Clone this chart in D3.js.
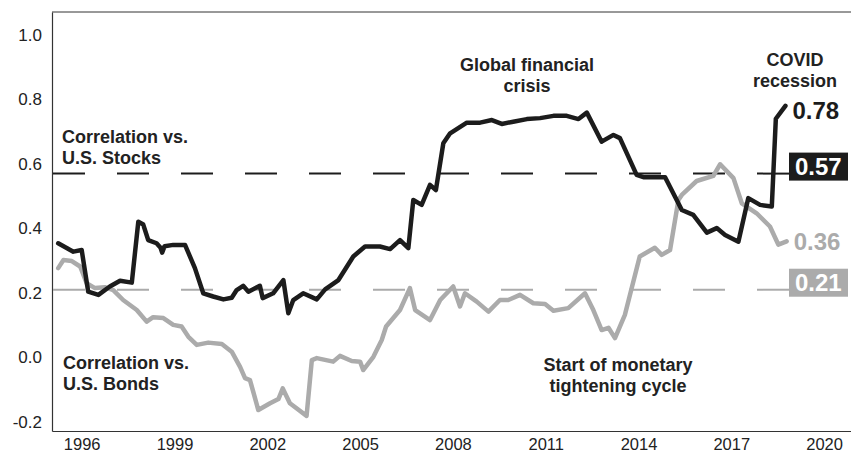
<!DOCTYPE html>
<html>
<head>
<meta charset="utf-8">
<script src="https://cdn.jsdelivr.net/npm/d3@7"></script>
<style>
  html, body { margin: 0; padding: 0; background: #fff; }
  svg { display: block; font-family: "Liberation Sans", Arial, Helvetica, sans-serif; }
</style>
</head>
<body>
<svg id="chart" width="851" height="454"></svg>
<script>
// Rolling correlation with U.S. stocks (black) and U.S. bonds (grey)
const stockYears = [1995.24,1995.73,1996.00,1996.21,1996.54,1996.91,1997.24,1997.62,1997.83,1997.99,
  1998.15,1998.42,1998.55,1998.60,1998.68,1998.96,1999.34,1999.66,1999.93,2000.25,
  2000.58,2000.85,2001.01,2001.22,2001.39,2001.76,2001.85,2002.19,2002.52,2002.68,
  2002.84,2003.16,2003.60,2003.87,2004.30,2004.78,2005.16,2005.64,2005.97,2006.29,
  2006.56,2006.72,2006.99,2007.26,2007.45,2007.69,2007.91,2008.45,2008.88,2009.26,
  2009.58,2009.95,2010.39,2010.82,2011.25,2011.68,2012.06,2012.33,2012.81,2013.19,
  2013.40,2013.94,2014.16,2014.86,2015.40,2015.77,2016.21,2016.53,2016.80,2017.23,
  2017.55,2017.93,2018.31,2018.44,2018.75];
const stockCorr = [0.354,0.328,0.333,0.204,0.194,0.220,0.238,0.232,0.421,0.412,
  0.364,0.354,0.340,0.325,0.345,0.349,0.349,0.277,0.199,0.189,
  0.180,0.185,0.209,0.222,0.204,0.222,0.184,0.199,0.240,0.137,
  0.178,0.199,0.180,0.211,0.240,0.313,0.344,0.344,0.336,0.364,
  0.339,0.488,0.473,0.535,0.519,0.664,0.695,0.728,0.728,0.736,
  0.724,0.731,0.739,0.742,0.749,0.749,0.739,0.759,0.669,0.690,
  0.680,0.566,0.559,0.559,0.457,0.442,0.387,0.401,0.380,0.359,
  0.494,0.473,0.468,0.740,0.780];

const bondYears = [1995.24,1995.41,1995.68,1995.95,1996.16,1996.43,1996.75,1997.02,1997.34,1997.78,
  1998.10,1998.31,1998.64,1998.96,1999.23,1999.45,1999.72,2000.09,2000.53,2000.85,
  2001.12,2001.28,2001.44,2001.71,2002.09,2002.36,2002.50,2002.73,2003.27,2003.44,
  2003.60,2004.13,2004.35,2004.73,2005.00,2005.10,2005.43,2005.70,2005.84,2006.29,
  2006.61,2006.78,2007.26,2007.59,2008.01,2008.23,2008.39,2008.77,2009.15,2009.52,
  2009.79,2010.17,2010.60,2010.98,2011.25,2011.73,2012.27,2012.54,2012.81,2013.03,
  2013.24,2013.56,2014.04,2014.53,2014.75,2015.02,2015.29,2015.40,2015.88,2016.42,
  2016.64,2017.07,2017.34,2017.82,2018.25,2018.52,2018.79];
const bondCorr = [0.277,0.302,0.299,0.282,0.230,0.215,0.218,0.209,0.178,0.147,
  0.111,0.125,0.122,0.101,0.096,0.064,0.039,0.046,0.042,0.018,
  -0.029,-0.064,-0.070,-0.163,-0.142,-0.129,-0.096,-0.142,-0.181,-0.008,
  -0.002,-0.013,0.005,-0.011,-0.013,-0.039,0.002,0.054,0.096,0.147,
  0.215,0.147,0.116,0.178,0.220,0.158,0.199,0.173,0.142,0.178,
  0.178,0.194,0.168,0.166,0.145,0.153,0.199,0.147,0.085,0.092,
  0.060,0.132,0.313,0.340,0.318,0.333,0.488,0.504,0.547,0.563,
  0.599,0.556,0.478,0.447,0.406,0.350,0.360];

// Long-run averages shown as dashed reference lines
const averages = [0.57, 0.21];
const yearTicks = [1996, 1999, 2002, 2005, 2008, 2011, 2014, 2017, 2020];
const corrTicks = [-0.2, 0.0, 0.2, 0.4, 0.6, 0.8, 1.0];

const BLACK = "#1c1c1c", GREY = "#ababab", TEXT = "#222";
const plot = { left: 52, top: 12, right: 851, bottom: 431 };

const svg = d3.select("#chart");
const x = d3.scaleLinear().domain([1995.04, 2020.87]).range([plot.left, plot.right]);
const y = d3.scaleLinear().domain([-0.228, 1.071]).range([plot.bottom, plot.top]);

// Frame: top rule
svg.append("line").attr("x1", plot.left).attr("x2", plot.right)
  .attr("y1", plot.top).attr("y2", plot.top)
  .attr("stroke", "#333").attr("stroke-width", 1);

// Axes
const yAxis = svg.append("g").attr("transform", `translate(${plot.left},0)`)
  .call(d3.axisLeft(y).tickValues(corrTicks).tickSize(0).tickPadding(10)
    .tickFormat(d => d.toFixed(1)));
const xAxis = svg.append("g").attr("transform", `translate(0,${plot.bottom})`)
  .call(d3.axisBottom(x).tickValues(yearTicks).tickSize(0).tickPadding(7)
    .tickFormat(d3.format("d")));
[yAxis, xAxis].forEach(g => {
  g.select(".domain").attr("stroke", "#333").attr("stroke-width", 1.2);
  g.selectAll("text").attr("fill", TEXT)
    .attr("font-family", "\"Liberation Sans\", Arial, sans-serif");
});
yAxis.selectAll("text").attr("font-size", 17);
xAxis.selectAll("text").attr("font-size", 16.5);

// Dashed average lines and their value boxes
const boxX = 789, boxW = 59, boxH = 28;
const avgColors = [BLACK, GREY];
averages.forEach((v, i) => {
  const yy = y(v);
  svg.append("line")
    .attr("x1", plot.left + 1).attr("x2", boxX)
    .attr("y1", yy).attr("y2", yy)
    .attr("stroke", avgColors[i]).attr("stroke-width", 2)
    .attr("stroke-dasharray", "32,32");
  svg.append("rect")
    .attr("x", boxX).attr("y", yy - 21).attr("width", boxW).attr("height", boxH)
    .attr("fill", avgColors[i]);
  svg.append("text")
    .attr("x", boxX + 6).attr("y", yy - 21 + boxH / 2).attr("dy", "0.36em")
    .attr("font-size", 24).attr("font-weight", "bold").attr("fill", "#fff")
    .text(v.toFixed(2));
});

// Correlation series
const line = d3.line().x(d => x(d[0])).y(d => y(d[1]));
const bond = bondYears.map((t, i) => [t, bondCorr[i]]);
const stock = stockYears.map((t, i) => [t, stockCorr[i]]);

svg.append("path").datum(bond).attr("d", line)
  .attr("fill", "none").attr("stroke", GREY).attr("stroke-width", 4.5)
  .attr("stroke-linejoin", "round").attr("stroke-linecap", "round");
svg.append("path").datum(stock).attr("d", line)
  .attr("fill", "none").attr("stroke", BLACK).attr("stroke-width", 4.5)
  .attr("stroke-linejoin", "round").attr("stroke-linecap", "round");

// Latest values at the series ends
[[stock, BLACK, 4], [bond, GREY, 0]].forEach(([s, c, shift]) => {
  const last = s[s.length - 1];
  svg.append("text")
    .attr("x", x(last[0]) + 7).attr("y", y(last[1]) + shift).attr("dy", "0.36em")
    .attr("font-size", 24).attr("font-weight", "bold").attr("fill", c)
    .text(last[1].toFixed(2));
});

// Annotations
function note(lines, px, py, anchor) {
  const t = svg.append("text")
    .attr("x", px).attr("y", py)
    .attr("font-size", 18).attr("font-weight", "bold").attr("fill", TEXT)
    .attr("text-anchor", anchor);
  lines.forEach((s, i) => t.append("tspan").attr("x", px).attr("dy", i ? 21 : 0).text(s));
}
const stockLineY = y(averages[0]);
note(["Correlation vs.", "U.S. Stocks"], 62, stockLineY - 31, "start");
note(["Correlation vs.", "U.S. Bonds"], 63, 369, "start");
note(["Global financial", "crisis"], 527, 71, "middle");
note(["COVID", "recession"], 795, 66, "middle");
note(["Start of monetary", "tightening cycle"], 618, 371, "middle");
</script>
</body>
</html>
